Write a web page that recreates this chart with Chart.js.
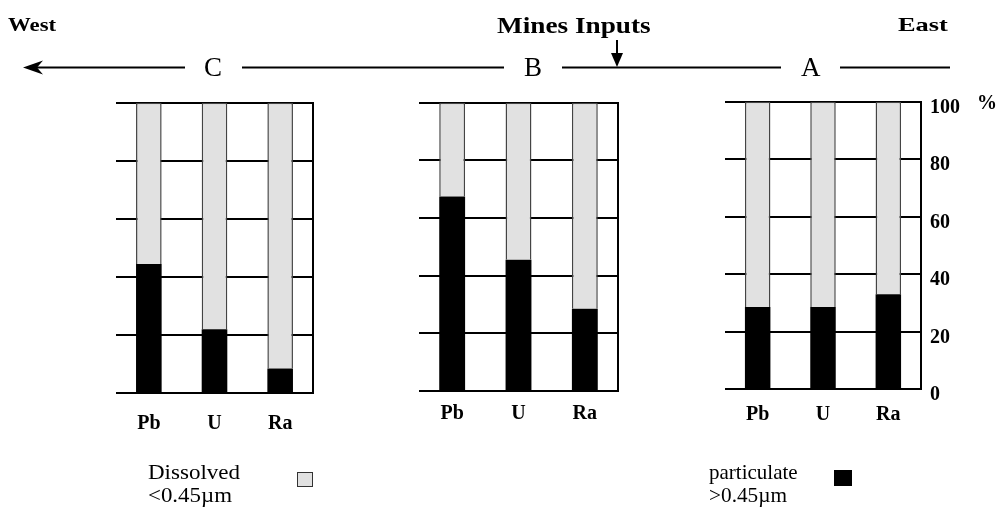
<!DOCTYPE html>
<html>
<head>
<meta charset="utf-8">
<script src="https://cdn.jsdelivr.net/npm/chart.js@4.4.1/dist/chart.umd.min.js"></script>
<style>
html,body{margin:0;padding:0;background:#fff;}
#stage{position:relative;width:996px;height:508px;overflow:hidden;font-family:"Liberation Serif","Times New Roman",serif;color:#000;}
.layer{position:absolute;left:0;top:0;width:996px;height:508px;}
.txt{position:absolute;white-space:nowrap;line-height:1;transform-origin:0 0;}
.sq{position:absolute;box-sizing:border-box;}
</style>
</head>
<body>
<div id="stage">
  <div class="layer"><canvas id="chartC"></canvas></div>
  <div class="layer"><canvas id="chartB"></canvas></div>
  <div class="layer"><canvas id="chartA"></canvas></div>
  <svg class="layer" width="996" height="508">
    <g stroke="#000" stroke-width="2" fill="none">
      <line x1="34" y1="67.5" x2="185" y2="67.5"/>
      <line x1="242" y1="67.5" x2="504" y2="67.5"/>
      <line x1="562" y1="67.5" x2="781" y2="67.5"/>
      <line x1="840" y1="67.5" x2="950" y2="67.5"/>
      <line x1="617" y1="40" x2="617" y2="56"/>
    </g>
    <polygon points="23,67.5 43,60.5 37,67.5 43,74.5" fill="#000"/>
    <polygon points="611,53 623,53 617,67" fill="#000"/>
  </svg>
  <div class="sq" style="left:297px;top:472px;width:16px;height:15px;background:#e1e1e1;border:1.5px solid #333;"></div>
  <div class="sq" style="left:834px;top:470px;width:18px;height:16px;background:#000;"></div>
</div>
<script>
// data (% of total)
const categories=['Pb','U','Ra'];
const particulateC=[44.5,22,8.5];
const dissolvedC=[55.5,78,91.5];
const particulateB=[67.5,45.5,28.5];
const dissolvedB=[32.5,54.5,71.5];
const particulateA=[28.5,28.5,33];
const dissolvedA=[71.5,71.5,67];
const yTicks=[0,20,40,60,80,100];

const W=996,H=508,FONT='"Liberation Serif","Times New Roman",serif';

// pixel boxes of each plot area
const panels=[
  {id:'chartC',part:particulateC,diss:dissolvedC,left:116,right:313,top:102.7,bottom:393.3,labPad:11,ticks:false},
  {id:'chartB',part:particulateB,diss:dissolvedB,left:419,right:618,top:102.7,bottom:391,labPad:3,ticks:false},
  {id:'chartA',part:particulateA,diss:dissolvedA,left:725,right:921,top:101.7,bottom:389,labPad:6,ticks:true}
];

function makePanel(p){
  const yW=p.ticks?70:2, xH=50;
  return new Chart(document.getElementById(p.id),{
    type:'bar',
    data:{labels:categories,datasets:[
      {label:'particulate >0.45µm',data:p.part,backgroundColor:'#000',borderWidth:0},
      {label:'Dissolved <0.45µm',data:p.diss,backgroundColor:'#e1e1e1',borderColor:'#444',borderWidth:1.5,borderSkipped:'start'}
    ]},
    options:{
      responsive:true,maintainAspectRatio:false,animation:false,
      layout:{padding:{left:p.left,top:p.top,right:W-p.right-yW,bottom:H-p.bottom-xH}},
      plugins:{legend:{display:false},tooltip:{enabled:false}},
      datasets:{bar:{categoryPercentage:1,barPercentage:0.39}},
      scales:{
        x:{stacked:true,grid:{display:false},border:{display:false},
           ticks:{color:'#000',padding:p.labPad,font:{family:FONT,size:20,weight:'bold'}},
           afterFit:a=>{a.height=xH;}},
        y:{stacked:true,position:'right',min:0,max:100,
           afterBuildTicks:a=>{a.ticks=yTicks.map(v=>({value:v}));},
           grid:{color:'#000',lineWidth:2,drawTicks:false},
           border:{display:true,color:'#000',width:2},
           ticks:{display:p.ticks,color:'#000',padding:9,labelOffset:6,font:{family:FONT,size:20,weight:'bold'}},
           afterFit:a=>{a.width=yW;}}
      }
    }
  });
}
panels.forEach(makePanel);

// annotation text; w = width seen in the figure (0 = natural width)
const stage=document.getElementById('stage');
function place(text,x,base,w,size,bold,center){
  const s=document.createElement('span');
  s.className='txt'; s.textContent=text;
  s.style.fontSize=size+'px'; s.style.fontWeight=bold?'bold':'normal';
  s.style.top=(base-0.838*size)+'px';
  stage.appendChild(s);
  const nat=s.offsetWidth, k=w?w/nat:1, ww=w||nat;
  s.style.left=(center?x-ww/2:x)+'px';
  if(w) s.style.transform='scaleX('+k+')';
}
place('West',8,31,48,19,true);
place('Mines Inputs',497,33,154,23,true);
place('East',898,31,50,19,true);
place('C',213,76.5,0,27,false,true);
place('B',533,76.5,0,27,false,true);
place('A',811,76.5,0,27,false,true);
place('%',977,109,0,20,true);
place('Dissolved',148,479.5,92,21,false);
place('<0.45µm',148,503,84,21,false);
place('particulate',709,479.5,89,21,false);
place('>0.45µm',709,503,78,21,false);
</script>
</body>
</html>
